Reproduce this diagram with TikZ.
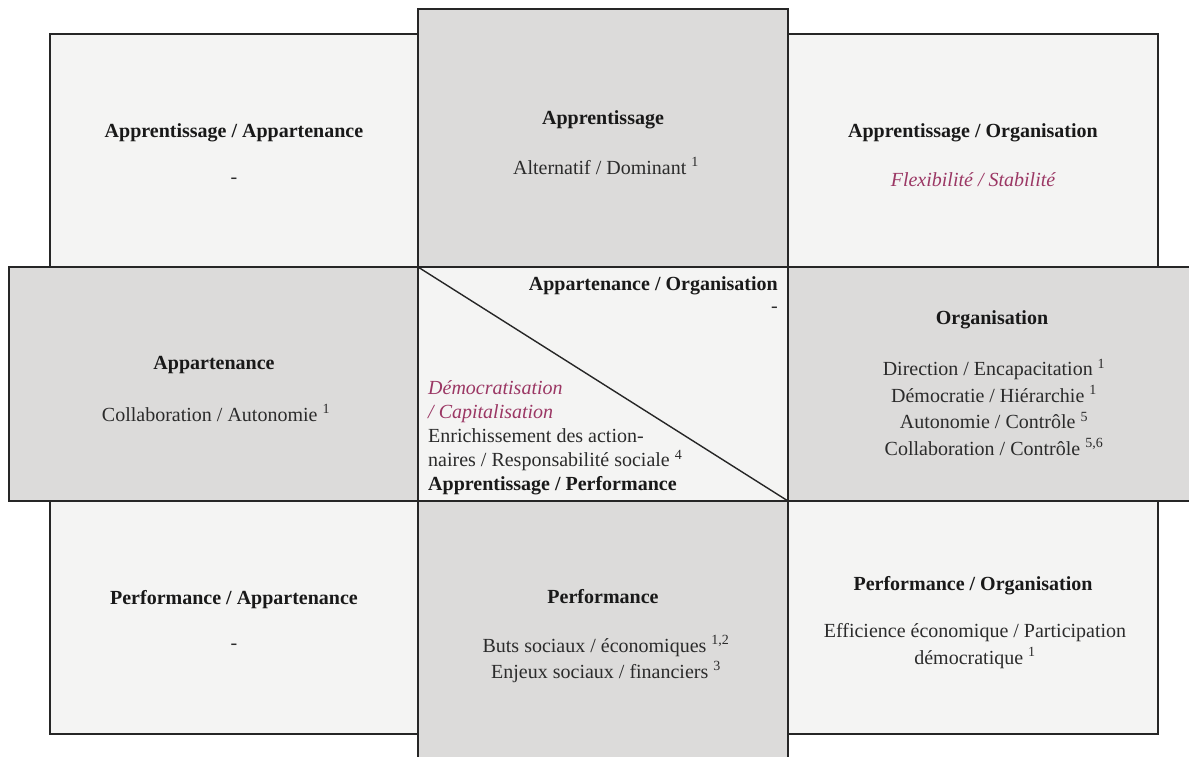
\documentclass[tikz,border=0pt]{standalone}
\usepackage{fontspec}
\setmainfont{Liberation Serif}
\definecolor{cellLight}{HTML}{F4F4F3}
\definecolor{cellDark}{HTML}{DCDBDA}
\definecolor{accent}{RGB}{155,55,100}
\definecolor{ink}{HTML}{2B2B2B}
\begin{document}
\begin{tikzpicture}[x=1pt,y=-1pt,
  cell/.style={draw=black!85, line width=1.6pt},
  light/.style={cell, fill=cellLight},
  dark/.style={cell, fill=cellDark},
  head/.style={font=\fontsize{20}{24}\selectfont\bfseries, text=black!90, inner sep=0pt},
  body/.style={font=\fontsize{20}{26.5}\selectfont, text=ink, align=center, inner sep=0pt},
  accenttext/.style={font=\fontsize{20}{24}\selectfont\itshape, text=accent, inner sep=0pt}]
\useasboundingbox (0,0) rectangle (1189,757);
\clip (0,0) rectangle (1189,757);

% cross of cells
\path[light] (50,34) rectangle (418,267);
\path[dark]  (418,9) rectangle (788,267);
\path[light] (788,34) rectangle (1158,267);
\path[dark]  (9,267) rectangle (418,501);
\path[light] (418,267) rectangle (788,501);
\path[dark]  (788,267) rectangle (1197,501);
\path[light] (50,501) rectangle (418,734);
\path[dark]  (418,501) rectangle (788,762);
\path[light] (788,501) rectangle (1158,734);

% diagonal split of the central cell
\coordinate (cTL) at (418,267);
\coordinate (cBR) at (788,501);
\draw[line width=1.4pt, black!85] (cTL) -- (cBR);

% top row
\node[head] (tlH) at (234,133) {Apprentissage / Appartenance};
\node[body] (tlB) at (234,181) {-};
\node[head] (tmH) at (603,120) {Apprentissage};
\node[body] (tmB) at (606,166) {Alternatif / Dominant \textsuperscript{1}};
\node[head] (trH) at (973,133) {Apprentissage / Organisation};
\node[accenttext] (trB) at (973,180) {Flexibilité / Stabilité};

% middle row
\node[head] (mlH) at (214,365) {Appartenance};
\node[body] (mlB) at (216,413) {Collaboration / Autonomie \textsuperscript{1}};
\node[head] (mrH) at (992,320) {Organisation};
\node[body] (mrB) at (994,407) {Direction / Encapacitation \textsuperscript{1}\\
  Démocratie / Hiérarchie \textsuperscript{1}\\
  Autonomie / Contrôle \textsuperscript{5}\\
  Collaboration / Contrôle \textsuperscript{5,6}};

% central cell, upper-right half
\node[head, anchor=east] (cH) at (778,286) {Appartenance / Organisation};
\node[body, anchor=east] (cB) at (778,310) {-};
% central cell, lower-left half
\node[anchor=west, align=left, inner sep=0pt, font=\fontsize{20}{24}\selectfont, text=ink] (cL) at (428,438)
  {{\color{accent}\itshape Démocratisation}\\
   {\color{accent}\itshape / Capitalisation}\\
   Enrichissement des action-\\
   naires / Responsabilité sociale \textsuperscript{4}\\
   {\bfseries\color{black!90}Apprentissage / Performance}};

% bottom row
\node[head] (blH) at (234,600) {Performance / Appartenance};
\node[body] (blB) at (234,647) {-};
\node[head] (bmH) at (603,597) {Performance};
\node[body] (bmB) at (606,659) {Buts sociaux / économiques \textsuperscript{1,2}\\
  Enjeux sociaux / financiers \textsuperscript{3}};
\node[head] (brH) at (973,586) {Performance / Organisation};
\node[body] (brB) at (975,646) {Efficience économique / Participation\\
  démocratique \textsuperscript{1}};
\end{tikzpicture}
\end{document}
